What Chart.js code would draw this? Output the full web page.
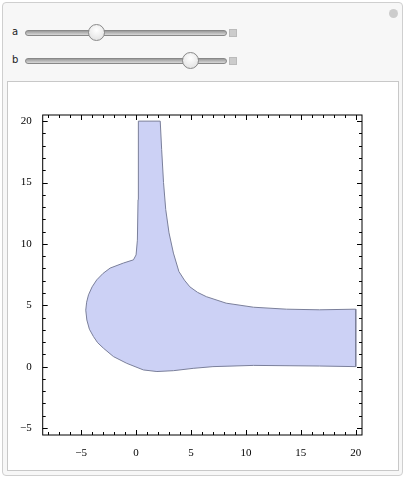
<!DOCTYPE html>
<html>
<head>
<meta charset="utf-8">
<script src="https://cdn.jsdelivr.net/npm/chart.js@4"></script>
<style>
  body { margin: 0; background: #fff; font-family: "Liberation Serif", serif; }
  #panel { position: absolute; left: 2px; top: 2px; width: 399px; height: 472px;
           border: 1px solid #cfcfcf; border-radius: 4px; background: #f7f7f7; }
  #plotbox { position: absolute; left: 7px; top: 81px; width: 390px; height: 388px;
             border: 1px solid #c8c8c8; background: #fff; }
  .lbl { position: absolute; font-family: "DejaVu Sans", sans-serif; font-size: 10px; color: #222; }
  .track { position: absolute; left: 25px; width: 200px; height: 4px; border-radius: 3px;
           background: linear-gradient(#9a9a9a, #d8d8d8); border: 1px solid #888; }
  .knob { position: absolute; width: 15px; height: 15px; border-radius: 50%;
          border: 1px solid #8a8a8a; background: radial-gradient(circle at 50% 35%, #fff, #ddd); }
  .plus { position: absolute; left: 229px; width: 6px; height: 6px; background: #ccc; border: 1px solid #bbb; }
  #canvasWrap { position: absolute; left: 8px; top: 82px; width: 390px; height: 388px; }
</style>
</head>
<body>
<div id="panel"></div>
<div style="position:absolute;left:389px;top:9px;width:9px;height:9px;border-radius:50%;background:#ccc;"></div>
<div class="lbl" style="left:12px;top:26px;">a</div>
<div class="track" style="top:30px;"></div>
<div class="knob" style="left:88px;top:24px;"></div>
<div class="plus" style="top:29px;"></div>
<div class="lbl" style="left:12px;top:54px;">b</div>
<div class="track" style="top:58px;"></div>
<div class="knob" style="left:182px;top:52px;"></div>
<div class="plus" style="top:57px;"></div>
<div id="plotbox"></div>
<div id="canvasWrap"><canvas id="regionChart"></canvas></div>
<script>
// outline of the region, traced clockwise from top of the neck
const outlineX = [0.21, 2.2, 2.33, 2.5, 2.7, 3.0, 3.4, 3.9, 4.4, 4.9, 5.6, 6.4, 8.2, 10.7, 13.7, 16.7, 20, 20,
  16.7, 10.7, 7, 5.2, 3.4, 1.9, 0.67, -0.85, -2.06, -2.97, -3.5, -3.88, -4.25, -4.48, -4.58, -4.5, -4.33, -4.0, -3.58, -3.0, -2.36,
  -1.15, -0.24, 0, 0.12, 0.18, 0.21];
const outlineY = [20, 20, 17.7, 15, 12.8, 10.9, 9.25, 7.75, 7.05, 6.5, 6.05, 5.7, 5.17, 4.84, 4.68, 4.63, 4.68, 0,
  0.05, 0.1, 0, -0.14, -0.33, -0.4, -0.27, 0.27, 0.82, 1.5, 1.95, 2.45, 3.05, 3.8, 4.6, 5.25, 5.85, 6.5, 7.07, 7.6, 8.03,
  8.44, 8.7, 9.1, 10.3, 13.6, 20];
const xRange = [-8.5, 20.57];
const yRange = [-5.57, 20.5];
const majorTicks = [-5, 0, 5, 10, 15, 20];

const points = outlineX.map((x, i) => ({ x: x, y: outlineY[i] }));

// Mathematica-style inward frame ticks on all four sides
const frameTicks = {
  id: 'frameTicks',
  afterDraw(chart) {
    const { ctx, chartArea: a, scales } = chart;
    ctx.save();
    ctx.strokeStyle = '#000';
    ctx.lineWidth = 1;
    ctx.strokeRect(a.left, a.top, a.right - a.left, a.bottom - a.top);
    ctx.beginPath();
    for (let v = Math.ceil(xRange[0]); v <= xRange[1]; v++) {
      const px = Math.round(scales.x.getPixelForValue(v)) + 0.5;
      const len = v % 5 === 0 ? 5 : 3;
      ctx.moveTo(px, a.bottom); ctx.lineTo(px, a.bottom - len);
      ctx.moveTo(px, a.top); ctx.lineTo(px, a.top + len);
    }
    for (let v = Math.ceil(yRange[0]); v <= yRange[1]; v++) {
      const py = Math.round(scales.y.getPixelForValue(v)) + 0.5;
      const len = v % 5 === 0 ? 5 : 3;
      ctx.moveTo(a.left, py); ctx.lineTo(a.left + len, py);
      ctx.moveTo(a.right, py); ctx.lineTo(a.right - len, py);
    }
    ctx.stroke();
    ctx.restore();
  }
};

const tickFont = { family: 'Liberation Serif', size: 11 };

new Chart(document.getElementById('regionChart'), {
  type: 'scatter',
  data: {
    datasets: [{
      data: points,
      showLine: true,
      fill: 'shape',
      backgroundColor: 'rgba(204, 209, 245, 1)',
      borderColor: '#7a7f9a',
      borderWidth: 1,
      pointRadius: 0,
      tension: 0
    }]
  },
  options: {
    responsive: true,
    maintainAspectRatio: false,
    animation: false,
    layout: { padding: { top: 33, right: 36, left: 0, bottom: 0 } },
    plugins: { legend: { display: false }, tooltip: { enabled: false } },
    scales: {
      x: {
        type: 'linear', min: xRange[0], max: xRange[1],
        afterBuildTicks: s => { s.ticks = majorTicks.map(v => ({ value: v })); },
        afterFit: s => { s.height = 35; },
        grid: { display: false },
        border: { display: false },
        ticks: { color: '#000', font: tickFont, padding: 4, maxRotation: 0,
                 callback: v => (v < 0 ? '\u2212' + (-v) : v) }
      },
      y: {
        type: 'linear', min: yRange[0], max: yRange[1],
        afterBuildTicks: s => { s.ticks = majorTicks.map(v => ({ value: v })); },
        afterFit: s => { s.width = 34.7; },
        grid: { display: false },
        border: { display: false },
        ticks: { color: '#000', font: tickFont, padding: 3,
                 callback: v => (v < 0 ? '\u2212' + (-v) : v) }
      }
    }
  },
  plugins: [frameTicks]
});
</script>
</body>
</html>
